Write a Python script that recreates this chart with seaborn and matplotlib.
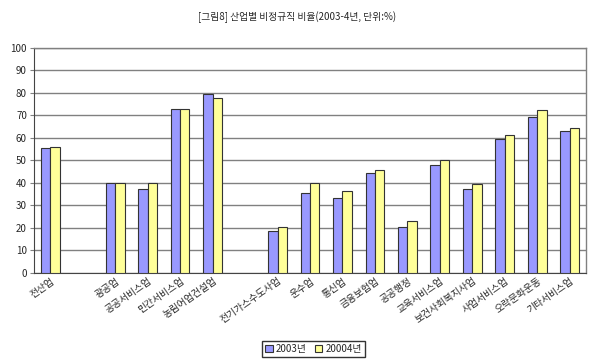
import pandas as pd
import matplotlib.pyplot as plt
import seaborn as sns

# 데이터
categories = ['전산업', '광공업', '공공서비스업', '민간서비스업', '농림어업건설업',
              '전기가스수도사업', '운수업', '통신업', '금융보험업', '공공행정',
              '교육서비스업', '보건사회복지사업', '사업서비스업', '오락문화운동', '기타서비스업']
v2003 = [55.4, 40.0, 37.5, 72.9, 79.7, 18.7, 35.5, 33.3, 44.4, 20.4, 48.0, 37.5, 59.7, 69.2, 63.1]
v2004 = [56.0, 40.0, 40.0, 72.9, 77.8, 20.4, 40.0, 36.3, 45.8, 23.2, 50.2, 39.7, 61.3, 72.4, 64.4]
series = ['2003년', '20004년']
# 빈 칸 (그룹 구분용)
order = ['전산업', '_gap1', '광공업', '공공서비스업', '민간서비스업', '농림어업건설업', '_gap2',
         '전기가스수도사업', '운수업', '통신업', '금융보험업', '공공행정',
         '교육서비스업', '보건사회복지사업', '사업서비스업', '오락문화운동', '기타서비스업']

df = pd.DataFrame({
    'cat': categories * 2,
    'year': [series[0]] * len(categories) + [series[1]] * len(categories),
    'val': v2003 + v2004,
})

sns.set_theme(style='white')
plt.rcParams['font.family'] = ['Noto Sans CJK KR', 'DejaVu Sans']

fig = plt.figure(figsize=(5.95, 3.6), dpi=100)
ax = fig.add_axes([0.057, 0.242, 0.928, 0.625])

sns.barplot(data=df, x='cat', y='val', hue='year', order=order, hue_order=series,
            palette=['#9999FF', '#FFFF99'], width=0.58, edgecolor='#333333',
            linewidth=0.8, saturation=1, ax=ax, zorder=3)

ax.set_ylim(0, 100)
ax.set_yticks(range(0, 101, 10))
ax.set_xlim(-0.5, len(order) - 0.5)
ax.yaxis.grid(True, color='#808080', linewidth=1, zorder=0)
ax.set_axisbelow(True)
ax.tick_params(axis='y', labelsize=7, length=3, width=0.8, color='#808080', pad=2, left=True)
ax.tick_params(axis='x', labelsize=7, length=0, pad=2)

ax.set_xticks(range(len(order)))
ax.set_xticklabels(['' if c.startswith('_gap') else c for c in order],
                   rotation=35, ha='right', rotation_mode='anchor')
ax.set_xlabel('')
ax.set_ylabel('')

for s in ['left', 'bottom']:
    ax.spines[s].set_color('#444444')
    ax.spines[s].set_linewidth(0.8)
for s in ['top', 'right']:
    ax.spines[s].set_color('#808080')
    ax.spines[s].set_linewidth(1)

ax.legend_.remove()
handles, labels = ax.get_legend_handles_labels()
fig.legend(handles, labels, loc='center', bbox_to_anchor=(0.527, 0.031), ncol=2,
           fontsize=7, frameon=True, fancybox=False, edgecolor='black',
           handlelength=0.8, handleheight=0.8, handletextpad=0.3, columnspacing=0.8,
           borderpad=0.3, borderaxespad=0)

fig.text(0.5, 0.953, '[그림8] 산업별 비정규직 비율(2003-4년, 단위:%)', ha='center', va='center',
         fontsize=7)

plt.savefig('out.png', dpi=100)
plt.close()
